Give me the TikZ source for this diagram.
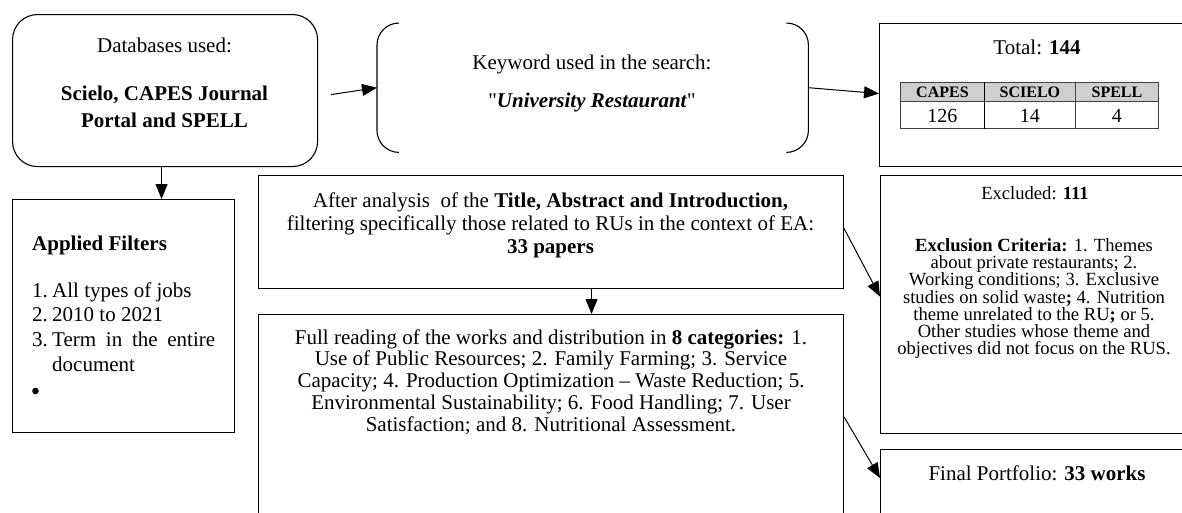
\documentclass[tikz,border=0pt]{standalone}
\usepackage{fontspec}
\setmainfont{Liberation Serif}
\newfontfamily\straightq{Liberation Serif}[Ligatures=TeXOff]
\usetikzlibrary{arrows.meta,calc}
\newcommand\mainsz{\fontsize{21}{21.7}\selectfont}
\newcommand\smallsz{\fontsize{18.6}{16.7}\selectfont}
\begin{document}
\begin{tikzpicture}[x=1pt,y=-1pt,
  box/.style={draw, line width=1.1pt, inner sep=0pt, anchor=north west},
  conn/.style={line width=1pt, -{Triangle[length=15pt,width=12pt]}},
  txt/.style={inner sep=0pt, anchor=base, align=center, font=\mainsz},
  stxt/.style={inner sep=0pt, anchor=base, align=center, font=\smallsz},
  cell/.style={draw=black!75, line width=0.9pt, inner sep=0pt, anchor=north west},
  head/.style={inner sep=0pt, anchor=base, font=\fontsize{16}{18}\selectfont\bfseries},
  num/.style={inner sep=0pt, anchor=base, font=\fontsize{20}{22}\selectfont},
]
\clip (0,0) rectangle (1182,512);
\fill[white] (0,0) rectangle (1182,512);

% boxes
\node[box, rounded corners=25pt, minimum width=305pt, minimum height=152pt] (db) at (12,14) {};
\node[inner sep=0pt, anchor=north west, minimum width=431pt, minimum height=129pt] (kw) at (377,23) {};
\node[box, minimum width=312pt, minimum height=143pt] (tot) at (879,23) {};
\node[box, minimum width=222pt, minimum height=233pt] (fl) at (12,199) {};
\node[box, minimum width=585pt, minimum height=113pt] (an) at (258,175) {};
\node[box, minimum width=585pt, minimum height=220pt] (fr) at (258,314) {};
\node[box, minimum width=312pt, minimum height=258pt] (ex) at (880,175) {};
\node[box, minimum width=312pt, minimum height=90pt] (fp) at (880,449) {};

% bracket pair around the keyword
\draw[line width=1.1pt, rounded corners=22pt]
  ($(kw.north west)+(22,0)$) -- (kw.north west) -- (kw.south west) -- ($(kw.south west)+(22,0)$);
\draw[line width=1.1pt, rounded corners=22pt]
  ($(kw.north east)+(-22,0)$) -- (kw.north east) -- (kw.south east) -- ($(kw.south east)+(-22,0)$);

% texts (a multi-line node sits on the baseline of its last line)
\node[txt] (dbt) at (164.5,52) {Databases used:};
\node[txt, font=\fontsize{21}{27}\selectfont\bfseries] (dbn) at (164.5,127) {Scielo, CAPES Journal\\Portal and SPELL};

\node[txt] (kwt) at (592,69) {Keyword used in the search:};
\node[txt] (kwn) at (592,107) {{\straightq"}\textbf{\textit{University Restaurant}}{\straightq"}};

\node[txt] (tott) at (1037,54) {Total: \textbf{144}};

% table of sources
\node[cell, fill=black!19, minimum width=84pt, minimum height=19pt] (c11) at (900,82) {};
\node[cell, fill=black!19, minimum width=91pt, minimum height=19pt] (c12) at (984,82) {};
\node[cell, fill=black!19, minimum width=83pt, minimum height=19pt] (c13) at (1075,82) {};
\node[cell, minimum width=84pt, minimum height=27pt] (c21) at (900,101) {};
\node[cell, minimum width=91pt, minimum height=27pt] (c22) at (984,101) {};
\node[cell, minimum width=83pt, minimum height=27pt] (c23) at (1075,101) {};
\draw[line width=0.9pt] (c12.north west) -- (c22.south west);
\node[head] at ($(c11.center)+(0,5.5)$) {CAPES};
\node[head] at ($(c12.center)+(0,5.5)$) {SCIELO};
\node[head] at ($(c13.center)+(0,5.5)$) {SPELL};
\node[num] at ($(c21.center)+(0,7.5)$) {126};
\node[num] at ($(c22.center)+(0,7.5)$) {14};
\node[num] at ($(c23.center)+(0,7.5)$) {4};

% filters
\node[txt, anchor=base west] (flt) at (32,250) {\textbf{Applied Filters}};
\node[txt, anchor=base west] (fl1) at (32,297) {1.};
\node[txt, anchor=base west] at (52,297) {All types of jobs};
\node[txt, anchor=base west] (fl2) at (32,321) {2.};
\node[txt, anchor=base west] at (52,321) {2010 to 2021};
\node[txt, anchor=base west] (fl3) at (32,346) {3.};
\node[txt, anchor=base west] at (52,346) {\makebox[163pt][s]{Term in the entire}};
\node[txt, anchor=base west] at (52,371) {document};
\fill (35.5,391) circle (3.3pt);

\node[txt] (ant) at (550.5,253) {After analysis\ \ of the \textbf{Title, Abstract and Introduction,}\\[1.3pt]
  filtering specifically those related to RUs in the context of EA:\\[1.3pt]
  \textbf{33 papers}};

\node[txt] (frt) at (551,431) {Full reading of the works and distribution in \textbf{8 categories:} 1.\\
  Use of Public Resources; 2. Family Farming; 3. Service\\
  Capacity; 4. Production Optimization -- Waste Reduction; 5.\\
  Environmental Sustainability; 6. Food Handling; 7. User\\
  Satisfaction; and 8. Nutritional Assessment.};

\node[stxt] (ext) at (1035,199) {Excluded: \textbf{111}};
\node[stxt] (exl) at (1034,354) {\textbf{Exclusion Criteria:} 1. Themes\\
  about private restaurants; 2.\\
  Working conditions; 3. Exclusive\\
  studies on solid waste\textbf{;} 4. Nutrition\\
  theme unrelated to the RU\textbf{;} or 5.\\
  Other studies whose theme and\\
  objectives did not focus on the RUS.};

\node[txt] (fpt) at (1037,480) {Final Portfolio: \textbf{33 works}};

% connectors
\draw[conn] ($(db.east)+(13,4)$) -- (kw.west);
\draw[conn] (kw.east) -- ($(tot.west)+(0,-1.5)$);
\coordinate (dbs) at ($(db.south)+(-3.5,0)$);
\draw[conn] (dbs) -- (dbs |- fl.north);
\coordinate (ans) at ($(an.south)+(40.5,0)$);
\draw[conn] (ans) -- (ans |- fr.north);
\draw[conn] ($(an.east)+(0,-3.5)$) -- ($(ex.west)+(0,-8)$);
\draw[conn] ($(fr.north east)+(0,103)$) -- ($(fp.north west)+(0,29)$);
\end{tikzpicture}
\end{document}
